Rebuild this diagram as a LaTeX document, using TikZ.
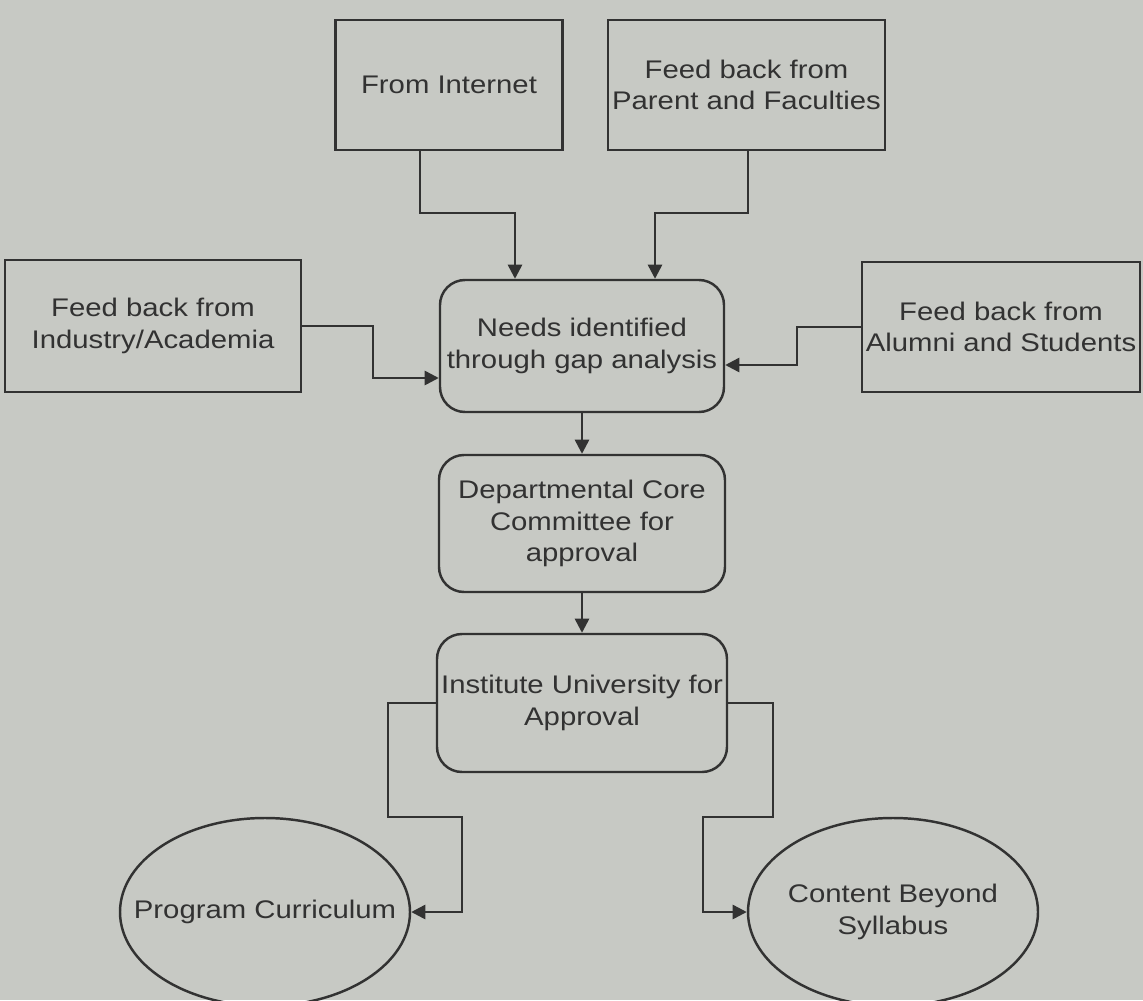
\documentclass[tikz,border=0pt]{standalone}
\usepackage{fontspec}
\setmainfont[FakeStretch=1.15]{Liberation Sans}
\usetikzlibrary{arrows.meta,shapes.geometric}
\definecolor{paper}{RGB}{199, 201, 196}
\definecolor{ink}{RGB}{50, 50, 50}
\tikzstyle{box}=[rectangle,draw=ink,line width=1.4pt,align=center,text=ink,
  inner sep=2pt,font=\fontsize{14.5}{18}\selectfont]
\tikzstyle{rbox}=[box,rounded corners=0.5cm]
\tikzstyle{oval}=[ellipse,draw=ink,line width=1.4pt,align=center,text=ink,
  inner xsep=-1.5cm,inner ysep=0pt,font=\fontsize{14.5}{18}\selectfont]
\tikzstyle{none}=[]
\tikzstyle{link}=[draw=ink,line width=1.4pt]
\tikzstyle{arr}=[link,-{Triangle[length=8pt,width=8pt]}]

\begin{document}
\begin{tikzpicture}
        \useasboundingbox (0, 0) rectangle (22.86, -20);
        \fill [paper] (0, 0) rectangle (22.86, -20);
        \node [style=box, minimum width=4.54cm, minimum height=2.6cm] (0) at (8.98, -1.7) {From Internet};
        \node [style=box, minimum width=5.54cm, minimum height=2.6cm] (1) at (14.93, -1.7) {Feed back from\\Parent and Faculties};
        \node [style=box, minimum width=5.92cm, minimum height=2.64cm] (2) at (3.06, -6.52) {Feed back from\\Industry/Academia};
        \node [style=box, minimum width=5.56cm, minimum height=2.6cm] (3) at (20.02, -6.54) {Feed back from\\Alumni and Students};
        \node [style=rbox, minimum width=5.68cm, minimum height=2.64cm] (4) at (11.64, -6.92) {Needs identified\\through gap analysis};
        \node [style=rbox, minimum width=5.72cm, minimum height=2.74cm] (5) at (11.64, -10.47) {Departmental Core\\Committee for\\approval};
        \node [style=rbox, minimum width=5.8cm, minimum height=2.76cm] (6) at (11.64, -14.06) {Institute University for\\Approval};
        \node [style=oval, minimum width=5.8cm, minimum height=3.76cm] (7) at (5.3, -18.24) {Program Curriculum};
        \node [style=oval, minimum width=5.8cm, minimum height=3.76cm] (8) at (17.86, -18.24) {Content Beyond\\Syllabus};
        \node [style=none] (10) at (8.4, -4.26) {};
        \node [style=none] (11) at (10.3, -4.26) {};
        \node [style=none] (24) at (14.96, -4.26) {};
        \node [style=none] (25) at (13.1, -4.26) {};
        \node [style=none] (12) at (7.46, -6.52) {};
        \node [style=none] (13) at (7.46, -7.56) {};
        \node [style=none] (14) at (15.94, -6.54) {};
        \node [style=none] (15) at (15.94, -7.3) {};
        \node [style=none] (16) at (7.76, -14.06) {};
        \node [style=none] (17) at (7.76, -16.34) {};
        \node [style=none] (18) at (9.24, -16.34) {};
        \node [style=none] (19) at (9.24, -18.24) {};
        \node [style=none] (20) at (15.46, -14.06) {};
        \node [style=none] (21) at (15.46, -16.34) {};
        \node [style=none] (22) at (14.06, -16.34) {};
        \node [style=none] (23) at (14.06, -18.24) {};
        \draw [style=arr] (0.south -| 10.center) -- (10.center) -- (11.center) -- (11.center |- 4.north);
        \draw [style=arr] (1.south -| 24.center) -- (24.center) -- (25.center) -- (25.center |- 4.north);
        \draw [style=arr] (2.east) -- (12.center) -- (13.center) -- (4.west |- 13.center);
        \draw [style=arr] (3.west) -- (14.center) -- (15.center) -- (4.east |- 15.center);
        \draw [style=arr] (4) -- (5);
        \draw [style=arr] (5) -- (6);
        \draw [style=arr] (6.west) -- (16.center) -- (17.center) -- (18.center) -- (19.center) -- (7.east);
        \draw [style=arr] (6.east) -- (20.center) -- (21.center) -- (22.center) -- (23.center) -- (8.west);
    \end{tikzpicture}
\end{document}
